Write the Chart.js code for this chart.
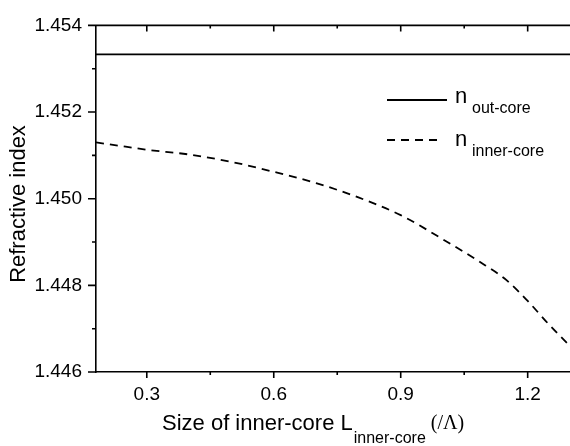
<!DOCTYPE html>
<html>
<head>
<meta charset="utf-8">
<script src="https://cdn.jsdelivr.net/npm/chart.js@4.4.0/dist/chart.umd.min.js"></script>
<style>
  html, body { margin: 0; padding: 0; background: #fff; }
</style>
</head>
<body>
<canvas id="indexChart" width="570" height="446"></canvas>
<script>
// inner-core size L (in units of the pitch) and the effective indices
const coreSize = [0.18, 0.25, 0.3, 0.4, 0.5, 0.6, 0.7, 0.8, 0.9, 1.0, 1.1, 1.15, 1.2, 1.25, 1.3];
const nInnerCore = [1.45130, 1.45120, 1.45113, 1.45102, 1.45085, 1.45062, 1.45036, 1.45003,
                    1.44962, 1.44906, 1.44846, 1.44812, 1.44764, 1.44710, 1.44660];
const outCoreSize = [0.18, 1.3];
const nOutCore = [1.45333, 1.45333];

const xMajorTicks = [0.3, 0.6, 0.9, 1.2];
const xMinorTicks = [0.45, 0.75, 1.05];
const yMajorTicks = [1.446, 1.448, 1.450, 1.452, 1.454];
const yMinorTicks = [1.447, 1.449, 1.451, 1.453];

const SANS = "'Liberation Sans', Arial, sans-serif";
const SERIF = "'Liberation Serif', 'Times New Roman', serif";
const DASH = [8, 6];

function toPoints(xs, ys) {
    return xs.map((x, i) => ({ x: x, y: ys[i] }));
}

// ticks on all sides, mirrored top axis, subscripted titles and the legend
const decorations = {
    id: 'decorations',
    afterDraw(chart) {
        const ctx = chart.ctx;
        const area = chart.chartArea;
        const xs = chart.scales.x;
        const ys = chart.scales.y;

        ctx.save();
        ctx.strokeStyle = '#000';
        ctx.fillStyle = '#000';
        ctx.lineWidth = 1.6;

        // top frame line
        ctx.beginPath();
        ctx.moveTo(area.left, area.top);
        ctx.lineTo(area.right, area.top);
        ctx.stroke();

        ctx.beginPath();
        xMajorTicks.forEach(v => {
            const px = xs.getPixelForValue(v);
            ctx.moveTo(px, area.bottom); ctx.lineTo(px, area.bottom + 6);
            ctx.moveTo(px, area.top); ctx.lineTo(px, area.top + 6);
        });
        xMinorTicks.forEach(v => {
            const px = xs.getPixelForValue(v);
            ctx.moveTo(px, area.bottom); ctx.lineTo(px, area.bottom + 3);
            ctx.moveTo(px, area.top); ctx.lineTo(px, area.top + 3);
        });
        yMajorTicks.forEach(v => {
            const py = ys.getPixelForValue(v);
            ctx.moveTo(area.left - 8, py); ctx.lineTo(area.left, py);
        });
        yMinorTicks.forEach(v => {
            const py = ys.getPixelForValue(v);
            ctx.moveTo(area.left - 4, py); ctx.lineTo(area.left, py);
        });
        ctx.stroke();

        // legend
        const lx = area.left + 291;
        ctx.lineWidth = 1.8;
        ctx.beginPath();
        ctx.moveTo(lx, 100); ctx.lineTo(lx + 60, 100);
        ctx.stroke();
        ctx.setLineDash(DASH);
        ctx.beginPath();
        ctx.moveTo(lx, 140); ctx.lineTo(lx + 50, 140);
        ctx.stroke();
        ctx.setLineDash([]);

        ctx.textAlign = 'left';
        ctx.textBaseline = 'alphabetic';
        ctx.font = '22px ' + SANS;
        ctx.fillText('n', lx + 68, 103);
        ctx.fillText('n', lx + 68, 146);
        ctx.font = '16px ' + SANS;
        ctx.fillText('out-core', lx + 85, 113);
        ctx.fillText('inner-core', lx + 85, 156);

        // x title
        let tx = area.left + 66;
        ctx.font = '22px ' + SANS;
        const main = 'Size of inner-core L';
        ctx.fillText(main, tx, 430);
        tx += ctx.measureText(main).width + 1;
        ctx.font = '16px ' + SANS;
        ctx.fillText('inner-core', tx, 443);
        tx += ctx.measureText('inner-core').width + 5;
        ctx.font = '20px ' + SERIF;
        ctx.fillText('(/\u039B)', tx, 429);

        // y title
        ctx.translate(25, 204);
        ctx.rotate(-Math.PI / 2);
        ctx.textAlign = 'center';
        ctx.font = '22px ' + SANS;
        ctx.fillText('Refractive index', 0, 0);
        ctx.restore();
    }
};

const grapharea = document.getElementById('indexChart').getContext('2d');

let indexChart = new Chart(grapharea, {
    type: 'line',
    data: {
        datasets: [{
            label: 'n out-core',
            data: toPoints(outCoreSize, nOutCore),
            borderColor: '#000',
            borderWidth: 1.8,
            pointRadius: 0,
            fill: false
        }, {
            label: 'n inner-core',
            data: toPoints(coreSize, nInnerCore),
            borderColor: '#000',
            borderWidth: 1.8,
            borderDash: DASH,
            pointRadius: 0,
            cubicInterpolationMode: 'monotone',
            fill: false
        }]
    },
    options: {
        responsive: false,
        animation: false,
        devicePixelRatio: 1,
        layout: { padding: { top: 20, left: 0, right: 0, bottom: 0 } },
        plugins: {
            legend: { display: false },
            tooltip: { enabled: false }
        },
        scales: {
            x: {
                type: 'linear',
                min: 0.18,
                max: 1.3,
                afterBuildTicks: s => { s.ticks = xMajorTicks.map(v => ({ value: v })); },
                afterFit: s => { s.height = 74; },
                grid: { display: false, drawTicks: false },
                border: { display: true, color: '#000', width: 1.6 },
                ticks: {
                    color: '#000',
                    font: { family: SANS, size: 19 },
                    padding: 11,
                    maxRotation: 0,
                    autoSkip: false,
                    callback: v => Number(v).toFixed(1)
                }
            },
            y: {
                type: 'linear',
                min: 1.446,
                max: 1.454,
                afterBuildTicks: s => { s.ticks = yMajorTicks.map(v => ({ value: v })); },
                afterFit: s => { s.width = 96; },
                grid: { display: false, drawTicks: false },
                border: { display: true, color: '#000', width: 1.6 },
                ticks: {
                    color: '#000',
                    font: { family: SANS, size: 19 },
                    padding: 14,
                    callback: v => Number(v).toFixed(3)
                }
            }
        }
    },
    plugins: [decorations]
});
</script>
</body>
</html>
